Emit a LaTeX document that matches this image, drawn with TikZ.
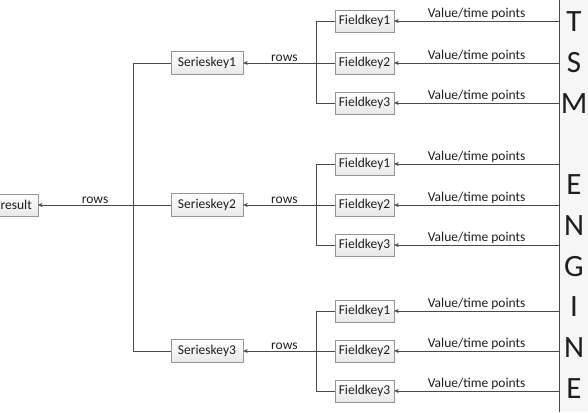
\documentclass[tikz,border=0pt]{standalone}
\usepackage{fontspec}
\setmainfont{Carlito}
\usetikzlibrary{arrows.meta,positioning}
\definecolor{Wire}{HTML}{4A4A4A}
\definecolor{Frame}{HTML}{959595}
\definecolor{Ink}{HTML}{1E1E1E}
\definecolor{Panel}{HTML}{F6F6F6}
\tikzset{
  keybox/.style={
    draw=Frame, top color=white, bottom color=gray!18,
    minimum height=22pt, inner sep=3pt, text=Ink,
    font=\fontsize{13.5}{15}\selectfont
  },
  fieldbox/.style={keybox, minimum width=59pt},
  seriesbox/.style={keybox, minimum width=72pt, minimum height=23pt},
  wire/.style={draw=Wire, thin},
  feed/.style={-{Stealth[length=4.5pt,width=4pt]}, thin, draw=Wire},
  tag/.style={font=\fontsize{13.5}{15}\selectfont, text=Ink, inner sep=1pt},
  engine/.style={font=\fontsize{31}{31}\selectfont, text=Ink}
}
\begin{document}
\begin{tikzpicture}[x=1pt,y=1pt]
    \useasboundingbox (0,0) rectangle (588,412);
    % engine panel
    \coordinate (paneltop) at (559,412);
    \coordinate (panelbot) at (588,0);
    \fill[Panel] (paneltop) rectangle (panelbot);
    \draw[wire] (paneltop) -- (paneltop |- panelbot);
    \foreach \ch/\k in {T/0,S/1,M/2,E/4,N/5,G/6,I/7,N/8,E/9}
      \node[engine] (letter\k) at (574,390-40.7*\k) {\ch};
    \node[keybox, anchor=east, inner xsep=6pt] (result) at (38,207) {result};
    % series groups
    \foreach \s/\fa/\fb/\fc in {1/391/349/309, 2/248/207/167, 3/101/61/21} {
      \node[seriesbox] (ser\s) at (207,\fb) {Serieskey\s};
      \foreach \f/\fy in {1/\fa, 2/\fb, 3/\fc} {
        \node[fieldbox] (fk\s\f) at (364.5,\fy) {Fieldkey\f};
        \coordinate (src\s\f) at (559,\fy);
        \draw[feed] (src\s\f) -- (fk\s\f.east)
          node[midway, above, tag] (val\s\f) {Value/time points};
      }
      \draw[wire] (fk\s1.west) -- ++(-19,0) |- (fk\s3.west);
      \draw[feed] (fk\s2.west) -- (ser\s.east)
        node[pos=0.55, above, tag] (rows\s) {rows};
    }
    \draw[wire] (ser1.west) -- ++(-38,0) |- (ser3.west);
    \draw[feed] (ser2.west) -- (result.east)
      node[pos=0.57, above, tag] (rowsall) {rows};
  \end{tikzpicture}
\end{document}
